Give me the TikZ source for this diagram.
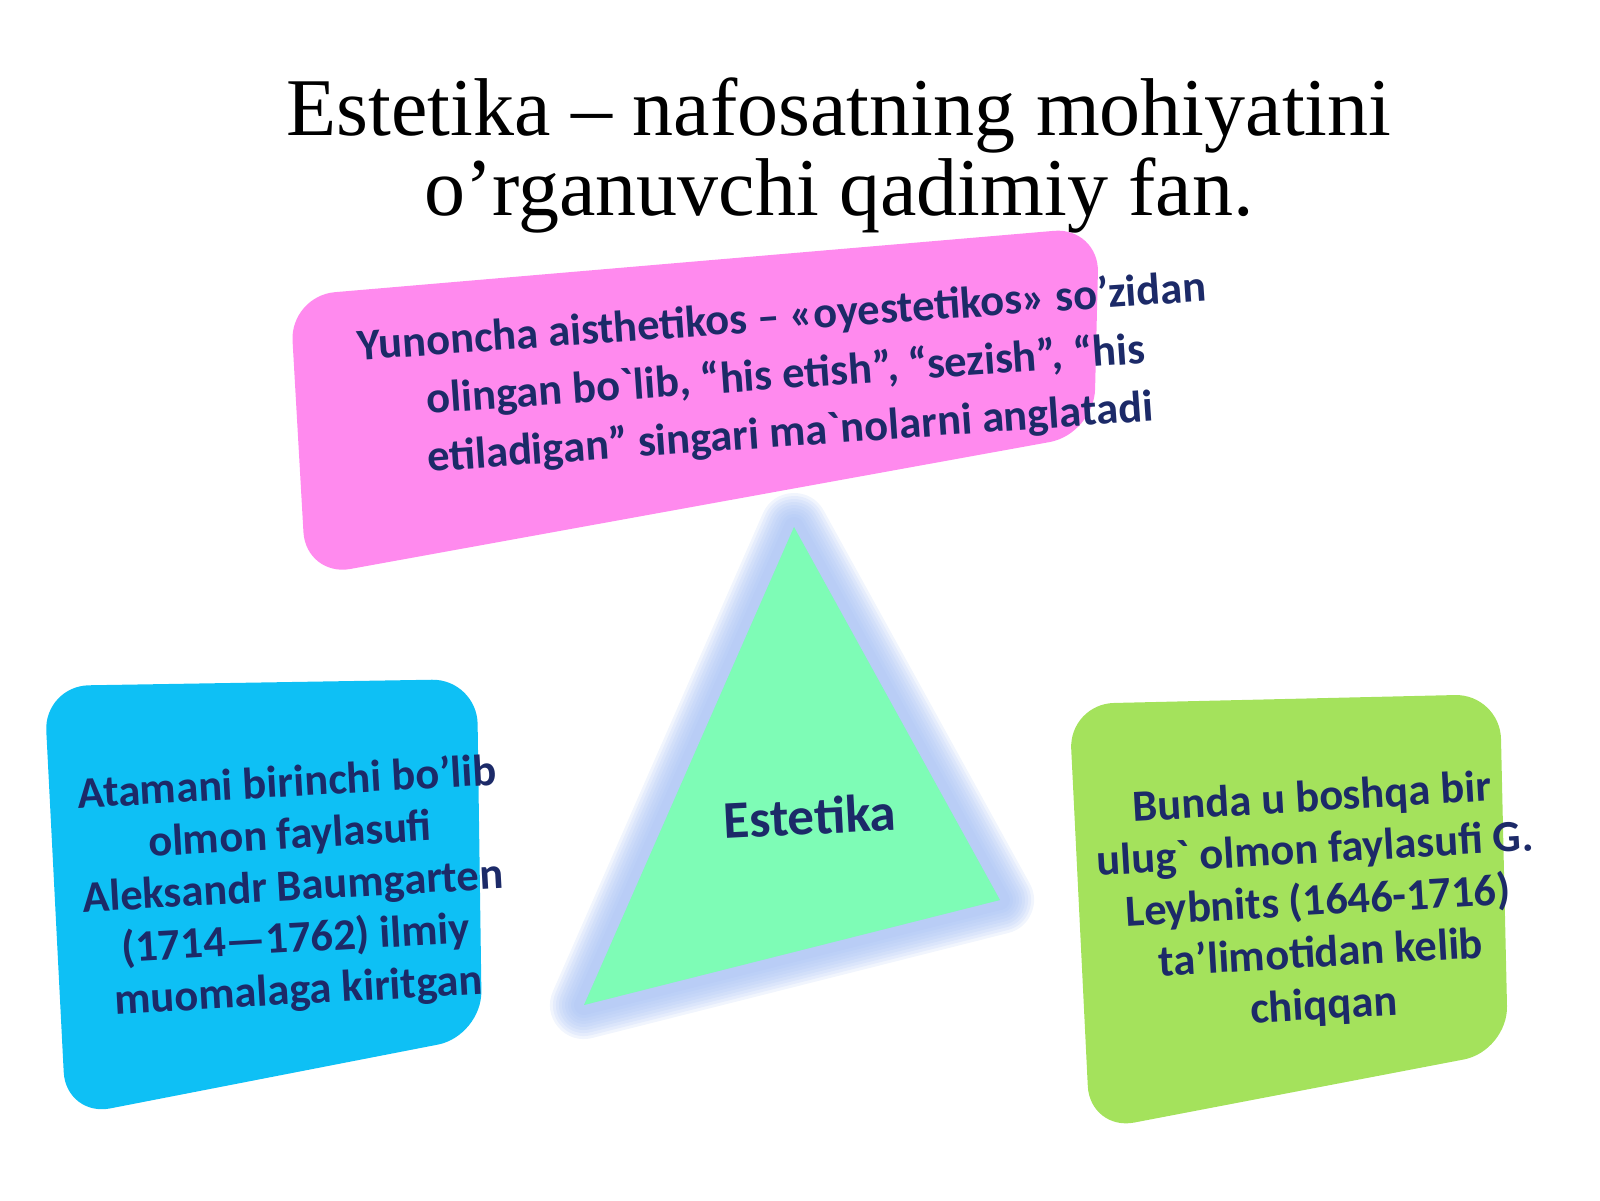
\documentclass[tikz,border=0pt]{standalone}
\usepackage{fontspec}
\setmainfont{Liberation Serif}
\newfontfamily\cardfont{Carlito}
\usetikzlibrary{positioning}
\definecolor{navy}{RGB}{28,42,104}
\definecolor{pinkcard}{RGB}{255,138,238}
\definecolor{bluecard}{RGB}{14,192,245}
\definecolor{greencard}{RGB}{164,226,92}
\definecolor{mint}{RGB}{126,252,182}
\definecolor{glow}{RGB}{166,192,244}
\newcommand\grv{\textasciigrave}

\begin{document}
\begin{tikzpicture}[x=1pt,y=-1pt]
\tikzstyle{card}=[rounded corners=45pt]
\tikzstyle{cardtext}=[font=\cardfont\bfseries\fontsize{44.5}{52}\selectfont,text=navy,align=center,inner sep=0pt]
\tikzstyle{heading}=[font=\fontsize{82}{80}\selectfont,align=center,inner sep=0pt]
\useasboundingbox (0,0) rectangle (1600,1200);

% title
\node[heading] (title) at (839,155) {Estetika – nafosatning mohiyatini\\o’rganuvchi qadimiy fan.};

% cards
\fill[pinkcard,card] (290,296) -- (1099,227) -- (1094,434) -- (306,577) -- cycle;
\fill[bluecard,card] (44,686) -- (477,679) -- (482,1036) -- (66,1117) -- cycle;
\fill[greencard,card] (1069,704) -- (1500,694) -- (1508,1051) -- (1090,1131) -- cycle;

% triangle with glow
\coordinate (apex) at (794,527);
\coordinate (left) at (584,1005);
\coordinate (right) at (1000,900);
\foreach \w in {68,62,...,20}
  \draw[glow,line width=\w pt,opacity=0.16,line join=round] (apex) -- (left) -- (right) -- cycle;
\fill[glow,opacity=0.5] (apex) -- (left) -- (right) -- cycle;
\fill[mint] (apex) -- (left) -- (right) -- cycle;

% texts
\node[cardtext,font=\cardfont\bfseries\fontsize{44.5}{58}\selectfont,rotate=4] (greek) at (786,376) {Yunoncha aisthetikos – «oyestetikos» so’zidan\\olingan bo\grv lib, “his etish”, “sezish”, “his\\etiladigan” singari ma\grv nolarni anglatadi};
\node[cardtext,rotate=3.2] (baum) at (293,888) {Atamani birinchi bo’lib\\olmon faylasufi\\Aleksandr Baumgarten\\(1714—1762) ilmiy\\muomalaga kiritgan};
\node[cardtext,rotate=3.3] (leib) at (1318,903) {Bunda u boshqa bir\\ulug\grv{} olmon faylasufi G.\\Leybnits (1646-1716)\\ta’limotidan kelib\\chiqqan};
\node[cardtext,font=\cardfont\bfseries\fontsize{53}{56}\selectfont,rotate=3] (core) at (810,816) {Estetika};
\end{tikzpicture}
\end{document}
